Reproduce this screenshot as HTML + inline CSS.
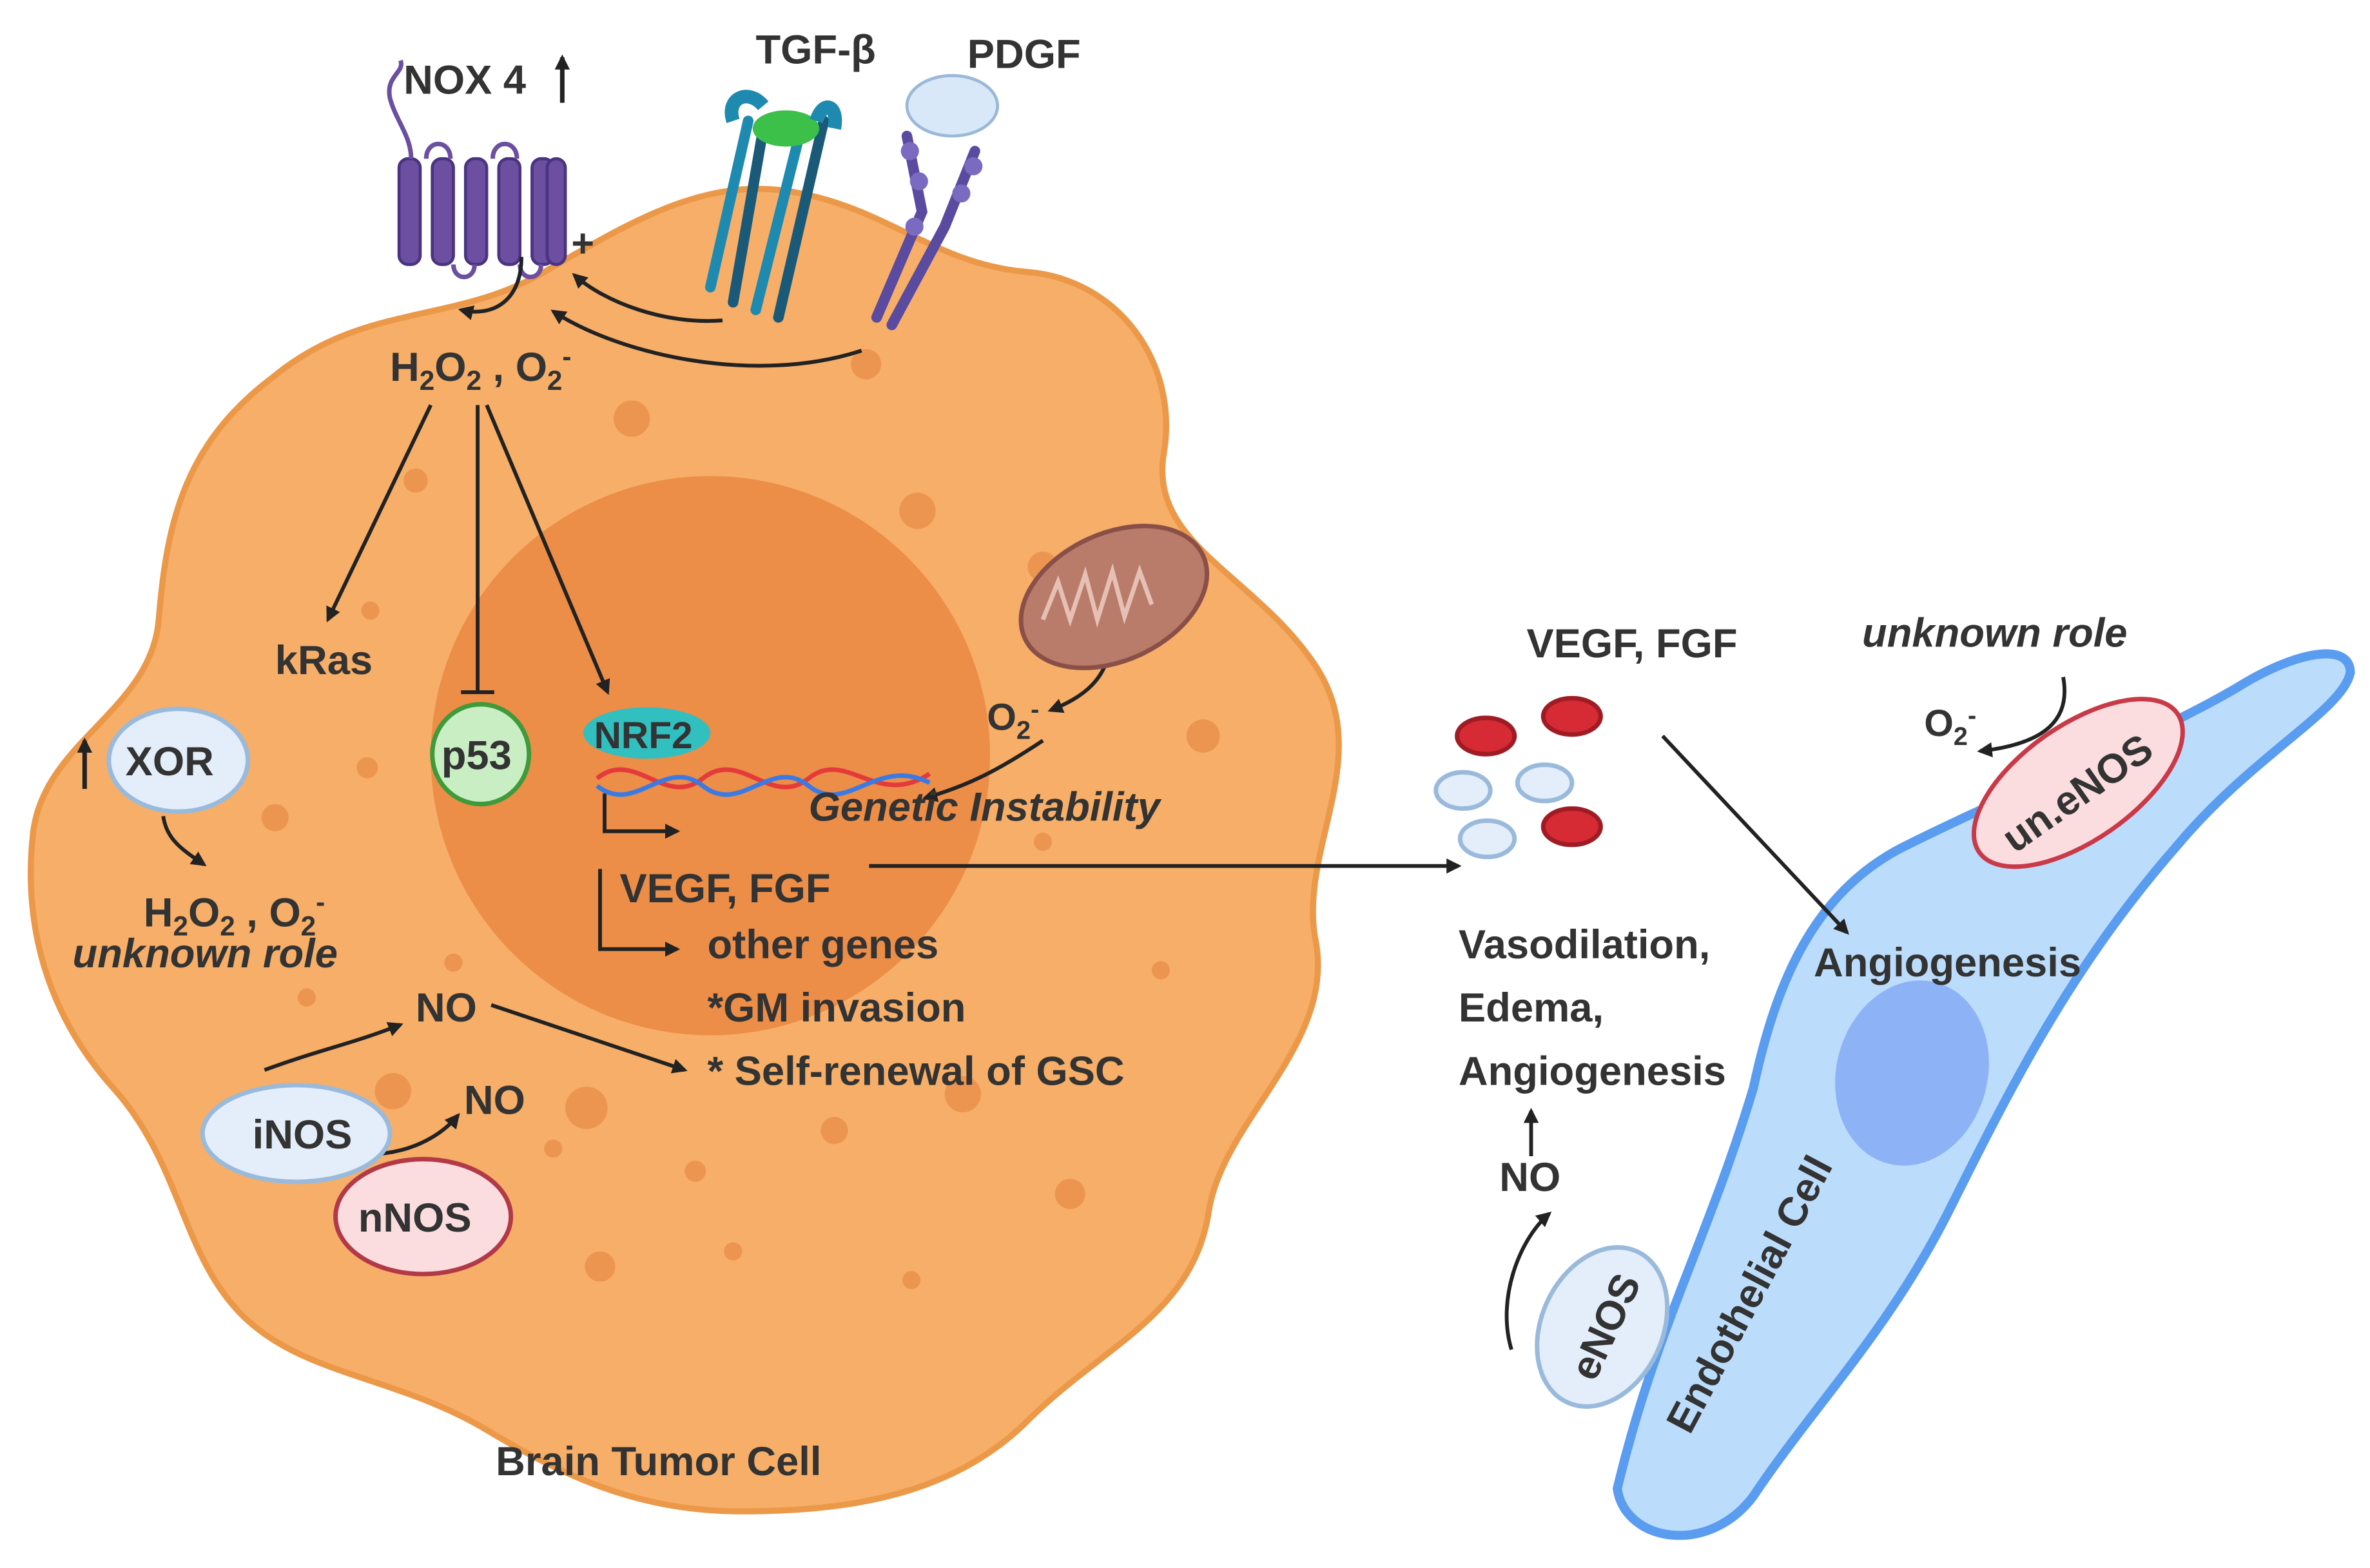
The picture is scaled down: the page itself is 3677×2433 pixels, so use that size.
<!DOCTYPE html>
<html><head><meta charset="utf-8"><style>
html,body{margin:0;padding:0;background:#fff;}
svg{display:block;}
text{font-family:"Liberation Sans",sans-serif;font-weight:bold;fill:#333;}
</style></head><body>
<svg width="3677" height="2433" viewBox="0 0 1568 1037.5" preserveAspectRatio="none" xmlns="http://www.w3.org/2000/svg">
<defs>
<marker id="a" markerWidth="10" markerHeight="10" refX="8" refY="5" orient="auto" markerUnits="userSpaceOnUse"><path d="M0,0 L10,5 L0,10 z" fill="#222"/></marker>
</defs>
<!-- tumor cell -->
<path d="M180,250 C240,200 300,215 360,180 C420,145 470,115 530,128 C590,140 620,175 680,180 C740,185 780,240 770,300 C760,360 830,380 870,440 C910,500 860,560 870,620 C885,690 810,740 800,800 C790,870 730,890 680,940 C630,990 560,1000 490,1000 C420,1000 370,975 320,945 C260,910 200,910 160,870 C120,830 120,770 75,720 C30,670 15,610 22,550 C30,490 100,470 105,410 C110,350 120,295 180,250 Z" fill="#f6ae68" stroke="#eb9848" stroke-width="4"/>
<circle cx="470" cy="500" r="185" fill="#ec8d48"/>
<!-- dots -->
<g fill="#ec9550">
<circle cx="418" cy="277" r="12"/><circle cx="573" cy="241" r="10"/><circle cx="607" cy="338" r="12"/><circle cx="275" cy="318" r="8"/><circle cx="690" cy="375" r="10"/><circle cx="796" cy="487" r="11"/><circle cx="182" cy="541" r="9"/><circle cx="243" cy="508" r="7"/><circle cx="245" cy="404" r="6"/><circle cx="300" cy="637" r="6"/><circle cx="203" cy="660" r="6"/><circle cx="260" cy="722" r="12"/><circle cx="388" cy="733" r="14"/><circle cx="366" cy="760" r="6"/><circle cx="552" cy="748" r="9"/><circle cx="460" cy="775" r="7"/><circle cx="637" cy="724" r="12"/><circle cx="708" cy="790" r="10"/><circle cx="768" cy="642" r="6"/><circle cx="397" cy="838" r="10"/><circle cx="485" cy="828" r="6"/><circle cx="603" cy="847" r="6"/><circle cx="690" cy="557" r="6"/>
</g>
<!-- NOX4 -->
<g fill="#6c4fa0" stroke="#4a3380" stroke-width="2">
<rect x="264" y="105" width="14" height="70" rx="6"/><rect x="286" y="105" width="14" height="70" rx="6"/><rect x="308" y="105" width="14" height="70" rx="6"/><rect x="330" y="105" width="14" height="70" rx="6"/><rect x="352" y="105" width="14" height="70" rx="6"/><rect x="362" y="105" width="12" height="70" rx="6"/>
</g>
<path d="M272,105 C272,90 262,80 258,65 C255,50 268,48 265,40 M282,105 C282,92 298,92 298,105 M326,105 C326,92 342,92 342,105 M300,175 C300,186 314,186 314,175 M344,175 C344,186 358,186 358,175" fill="none" stroke="#6c4fa0" stroke-width="3"/>
<text x="267" y="62" font-size="27">NOX 4</text>
<path d="M372,68 V38" stroke="#222" stroke-width="3" marker-end="url(#a)"/>
<text x="378" y="170" font-size="26">+</text>
<!-- TGF-b receptor -->
<g stroke-width="7" stroke-linecap="round" fill="none">
<path d="M495,80 L470,190" stroke="#1f8ab0"/><path d="M505,85 L485,200" stroke="#1a5a78"/><path d="M530,85 L500,205" stroke="#1f8ab0"/><path d="M545,80 L515,210" stroke="#1a5a78"/>
</g>
<ellipse cx="520" cy="85" rx="22" ry="12" fill="#3cc04a"/>
<path d="M485,80 C480,65 495,58 505,70 M540,80 C545,65 555,70 552,85" stroke="#1f8ab0" stroke-width="9" fill="none"/>
<text x="500" y="42" font-size="27">TGF-β</text>
<!-- PDGF -->
<ellipse cx="630" cy="70" rx="30" ry="20" fill="#d8e8f8" stroke="#9ab8d8" stroke-width="2"/>
<g stroke="#5a4aa0" stroke-width="7" stroke-linecap="round" fill="none">
<path d="M600,90 L610,140 L580,210"/><path d="M645,100 L625,150 L590,215"/>
</g>
<g fill="#7a6ac0"><circle cx="602" cy="100" r="6"/><circle cx="608" cy="120" r="6"/><circle cx="644" cy="110" r="6"/><circle cx="636" cy="128" r="6"/><circle cx="605" cy="150" r="6"/></g>
<text x="640" y="45" font-size="27">PDGF</text>
<!-- arrows top -->
<g fill="none" stroke="#222" stroke-width="2.5">
<path d="M570,232 C500,255 410,235 366,206" marker-end="url(#a)"/>
<path d="M478,212 C440,215 400,200 380,182" marker-end="url(#a)"/>
<path d="M345,170 C345,200 325,210 305,205" marker-end="url(#a)"/>
<path d="M285,268 L217,410" marker-end="url(#a)"/>
<path d="M316,268 L316,458"/><path d="M305,458 H327"/>
<path d="M322,268 L402,458" marker-end="url(#a)"/>
<path d="M735,420 C735,450 715,462 695,470" marker-end="url(#a)"/>
<path d="M690,490 C660,510 640,520 612,528" marker-end="url(#a)"/>
<path d="M400,525 V550 H448" marker-end="url(#a)"/>
<path d="M397,575 V628 H448" marker-end="url(#a)"/>
<path d="M575,573 H965" marker-end="url(#a)"/>
<path d="M108,540 C110,555 120,562 135,572" marker-end="url(#a)"/>
<path d="M325,665 L453,708" marker-end="url(#a)"/>
<path d="M175,708 C210,695 235,690 265,678" marker-end="url(#a)"/>
<path d="M215,760 C250,770 285,760 303,738" marker-end="url(#a)"/>
<path d="M1013,765 V735" marker-end="url(#a)"/>
<path d="M1000,893 C990,860 1005,820 1025,803" marker-end="url(#a)"/>
<path d="M1365,448 C1370,475 1355,492 1310,497" marker-end="url(#a)"/>
</g>
<path d="M56,522 V490" stroke="#222" stroke-width="3" marker-end="url(#a)"/>
<text x="258" y="252" font-size="27">H<tspan font-size="18" dy="6">2</tspan><tspan dy="-6">O</tspan><tspan font-size="18" dy="6">2</tspan><tspan dy="-6"> , O</tspan><tspan font-size="18" dy="6">2</tspan><tspan font-size="18" dy="-16">-</tspan></text>
<text x="182" y="446" font-size="27">kRas</text>
<ellipse cx="318" cy="499" rx="32" ry="33" fill="#c9eec4" stroke="#3f9a3a" stroke-width="3"/>
<text x="292" y="509" font-size="27">p53</text>
<ellipse cx="428" cy="485" rx="42" ry="17" fill="#31bfc0"/>
<text x="393" y="495" font-size="25">NRF2</text>
<path d="M395,515 C420,495 440,535 465,515 C490,495 510,535 535,515 C560,495 580,535 615,512" fill="none" stroke="#e43a3a" stroke-width="3"/>
<path d="M395,520 C420,540 440,500 465,520 C490,540 510,500 535,520 C560,540 580,500 615,518" fill="none" stroke="#3a7ae4" stroke-width="3"/>
<!-- mitochondrion -->
<ellipse cx="737" cy="395" rx="65" ry="42" transform="rotate(-25 737 395)" fill="#b97b6a" stroke="#8a5048" stroke-width="3"/>
<path d="M690,410 l10,-25 l8,25 l10,-30 l8,30 l10,-32 l8,30 l10,-30 l8,22" fill="none" stroke="#e6c0b4" stroke-width="3"/>
<text x="653" y="483" font-size="25">O<tspan font-size="17" dy="6">2</tspan><tspan font-size="17" dy="-14">-</tspan></text>
<text x="535" y="543" font-size="27" font-style="italic">Genetic Instability</text>
<text x="410" y="597" font-size="27">VEGF, FGF</text>
<text x="468" y="634" font-size="27">other genes</text>
<text x="468" y="676" font-size="27">*GM invasion</text>
<text x="468" y="718" font-size="27">* Self-renewal of GSC</text>
<ellipse cx="118" cy="503" rx="46" ry="34" fill="#e4eefa" stroke="#9abadc" stroke-width="3"/>
<text x="83" y="513" font-size="27">XOR</text>
<text x="95" y="613" font-size="27">H<tspan font-size="18" dy="6">2</tspan><tspan dy="-6">O</tspan><tspan font-size="18" dy="6">2</tspan><tspan dy="-6"> , O</tspan><tspan font-size="18" dy="6">2</tspan><tspan font-size="18" dy="-16">-</tspan></text>
<text x="48" y="640" font-size="27" font-style="italic">unknown role</text>
<text x="275" y="676" font-size="27">NO</text>
<text x="307" y="737" font-size="27">NO</text>
<ellipse cx="280" cy="805" rx="58" ry="38" fill="#fbdde0" stroke="#b23a48" stroke-width="3"/>
<text x="237" y="815" font-size="27">nNOS</text>
<ellipse cx="196" cy="750" rx="62" ry="32" fill="#e4eefa" stroke="#9abadc" stroke-width="3"/>
<text x="167" y="760" font-size="27">iNOS</text>
<text x="328" y="976" font-size="27">Brain Tumor Cell</text>
<!-- endothelial -->
<path d="M1070,985 C1095,880 1130,820 1160,720 C1175,650 1200,590 1260,560 C1340,520 1420,490 1480,455 C1520,430 1555,425 1555,445 C1550,470 1490,500 1440,560 C1370,640 1330,720 1290,800 C1250,880 1200,930 1160,990 C1130,1030 1075,1020 1070,985 Z" fill="#bcdcfc" stroke="#5a9cf0" stroke-width="6"/>
<ellipse cx="1265" cy="710" rx="50" ry="62" transform="rotate(15 1265 710)" fill="#8eb2f6"/>
<path d="M1100,487 L1222,617" fill="none" stroke="#222" stroke-width="2.5" marker-end="url(#a)"/>
<text x="0" y="0" font-size="27" transform="translate(1118,950) rotate(-62)">Endothelial Cell</text>
<ellipse cx="1375" cy="518" rx="80" ry="38" transform="rotate(-35 1375 518)" fill="#fbdde0" stroke="#c83a48" stroke-width="3"/>
<text x="0" y="0" font-size="27" transform="translate(1333,565) rotate(-35)">un.eNOS</text>
<ellipse cx="1060" cy="878" rx="40" ry="55" transform="rotate(25 1060 878)" fill="#e4eefa" stroke="#9abadc" stroke-width="3"/>
<text x="0" y="0" font-size="27" transform="translate(1055,915) rotate(-65)">eNOS</text>
<text x="1010" y="435" font-size="27">VEGF, FGF</text>
<text x="1232" y="428" font-size="27" font-style="italic">unknown role</text>
<text x="1273" y="487" font-size="25">O<tspan font-size="17" dy="6">2</tspan><tspan font-size="17" dy="-14">-</tspan></text>
<g stroke-width="3">
<ellipse cx="983" cy="487" rx="19" ry="12" fill="#d62a34" stroke="#a01c24"/>
<ellipse cx="1040" cy="474" rx="19" ry="12" fill="#d62a34" stroke="#a01c24"/>
<ellipse cx="1040" cy="547" rx="19" ry="12" fill="#d62a34" stroke="#a01c24"/>
<ellipse cx="968" cy="523" rx="18" ry="12" fill="#e4eefa" stroke="#9abadc"/>
<ellipse cx="1022" cy="518" rx="18" ry="12" fill="#e4eefa" stroke="#9abadc"/>
<ellipse cx="984" cy="555" rx="18" ry="12" fill="#e4eefa" stroke="#9abadc"/>
</g>
<text x="965" y="634" font-size="27">Vasodilation,</text>
<text x="965" y="676" font-size="27">Edema,</text>
<text x="965" y="718" font-size="27">Angiogenesis</text>
<text x="1200" y="646" font-size="27">Angiogenesis</text>
<text x="992" y="788" font-size="27">NO</text>
</svg>
</body></html>
